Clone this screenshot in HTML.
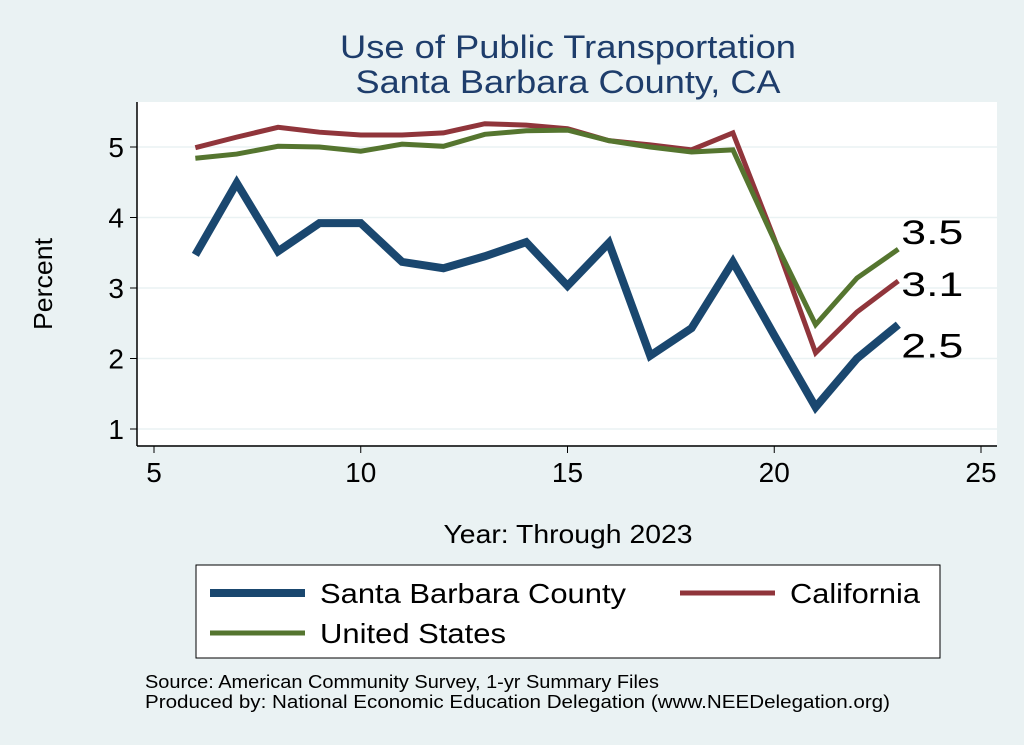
<!DOCTYPE html>
<html><head><meta charset="utf-8"><style>
body{margin:0;background:#eaf2f3;font-family:"Liberation Sans",sans-serif;}
svg{display:block}
</style></head><body>
<svg width="1024" height="745" id="c" font-family="Liberation Sans, sans-serif">
<rect width="1024" height="745" fill="#eaf2f3"/>
<text x="568" y="58" text-anchor="middle" font-size="32" textLength="456" lengthAdjust="spacingAndGlyphs" fill="#1e3d6b">Use of Public Transportation</text>
<text x="568" y="93" text-anchor="middle" font-size="32" textLength="425" lengthAdjust="spacingAndGlyphs" fill="#1e3d6b">Santa Barbara County, CA</text>
<rect x="137" y="102" width="860" height="343" fill="#fff"/>
<g id="grid"></g>
<line x1="137" y1="102" x2="137" y2="446" stroke="#000" stroke-width="1.5"/>
<line x1="137" y1="446" x2="997" y2="446" stroke="#000" stroke-width="1.5"/>
<g id="ticks"></g>
<g id="series"></g>
<text x="52" y="284" text-anchor="middle" font-size="26" textLength="92" lengthAdjust="spacingAndGlyphs" transform="rotate(-90 52 284)">Percent</text>
<text x="568" y="543" text-anchor="middle" font-size="26" textLength="249" lengthAdjust="spacingAndGlyphs">Year: Through 2023</text>
<g>
<rect x="196" y="565" width="744" height="93" fill="#fff" stroke="#000" stroke-width="1"/>
<line x1="210" y1="593" x2="305" y2="593" stroke="#1a476f" stroke-width="8"/>
<text x="320" y="603" font-size="28" textLength="306" lengthAdjust="spacingAndGlyphs">Santa Barbara County</text>
<line x1="680" y1="593" x2="775" y2="593" stroke="#90353b" stroke-width="5"/>
<text x="790" y="603" font-size="28" textLength="130" lengthAdjust="spacingAndGlyphs">California</text>
<line x1="210" y1="633" x2="305" y2="633" stroke="#55752f" stroke-width="5"/>
<text x="320" y="643" font-size="28" textLength="186" lengthAdjust="spacingAndGlyphs">United States</text>
</g>
<text x="145" y="688" font-size="18" textLength="514" lengthAdjust="spacingAndGlyphs">Source: American Community Survey, 1-yr Summary Files</text>
<text x="145" y="708" font-size="18" textLength="745" lengthAdjust="spacingAndGlyphs">Produced by: National Economic Education Delegation (www.NEEDelegation.org)</text>
</svg>
<script>
const years=[6,7,8,9,10,11,12,13,14,15,16,17,18,19,20,21,22,23];
const sbValues=[3.47,4.49,3.52,3.92,3.92,3.37,3.28,3.45,3.65,3.03,3.64,2.04,2.43,3.37,2.33,1.31,2.0,2.48];
const caValues=[4.99,5.14,5.28,5.21,5.17,5.17,5.2,5.33,5.31,5.26,5.09,5.03,4.96,5.2,3.7,2.08,2.66,3.1];
const usValues=[4.84,4.9,5.01,5.0,4.94,5.04,5.01,5.18,5.23,5.24,5.09,5.0,4.93,4.96,3.68,2.48,3.14,3.55];
const xTicks=[5,10,15,20,25];
const yTicks=[1,2,3,4,5];
const endLabels=["2.5","3.1","3.5"];
const NS="http://www.w3.org/2000/svg";
const xs=v=>154+(v-5)*(981-154)/20;
const ys=v=>429-(v-1)*(429-147)/4;
function mk(t,a,p){const e=document.createElementNS(NS,t);for(const k in a)e.setAttribute(k,a[k]);p.appendChild(e);return e;}
const grid=document.getElementById('grid'),ticks=document.getElementById('ticks'),ser=document.getElementById('series');
yTicks.forEach(v=>{
 const g=mk('line',{x1:137,x2:997,y1:ys(v),y2:ys(v),stroke:'#eaf2f3','stroke-width':1.5},grid);
 
 
 const t=mk('line',{x1:130,x2:137,y1:ys(v),y2:ys(v),stroke:'#000'},ticks);
 
 
 const l=mk('text',{x:124,y:ys(v)+10,'text-anchor':'end','font-size':28},ticks);l.textContent=v;
 
 
});
xTicks.forEach(v=>{
 const t=mk('line',{x1:xs(v),x2:xs(v),y1:446,y2:453,stroke:'#000'},ticks);
 
 
 const l=mk('text',{x:xs(v),y:482,'text-anchor':'middle','font-size':28},ticks);l.textContent=v;
 
 
});
const series=[[caValues,'#90353b',5,'california-line'],[usValues,'#55752f',5,'united-states-line'],[sbValues,'#1a476f',8,'santa-barbara-line']];
series.forEach(([vals,c,w,n])=>{
 const p=mk('polyline',{points:vals.map((v,i)=>xs(years[i])+','+ys(v)).join(' '),fill:'none',stroke:c,'stroke-width':w,'stroke-linejoin':'miter'},ser);
 
 
});
const lastIdx=years.length-1;
[[sbValues,endLabels[0],23],[caValues,endLabels[1],5],[usValues,endLabels[2],-15]].forEach(([vals,txt,dy])=>{
 const l=mk('text',{x:xs(years[lastIdx])+3,y:ys(vals[lastIdx])+dy+10,'font-size':34,textLength:62,lengthAdjust:'spacingAndGlyphs'},ser);l.textContent=txt;
 
 
});
</script>
</body></html>
